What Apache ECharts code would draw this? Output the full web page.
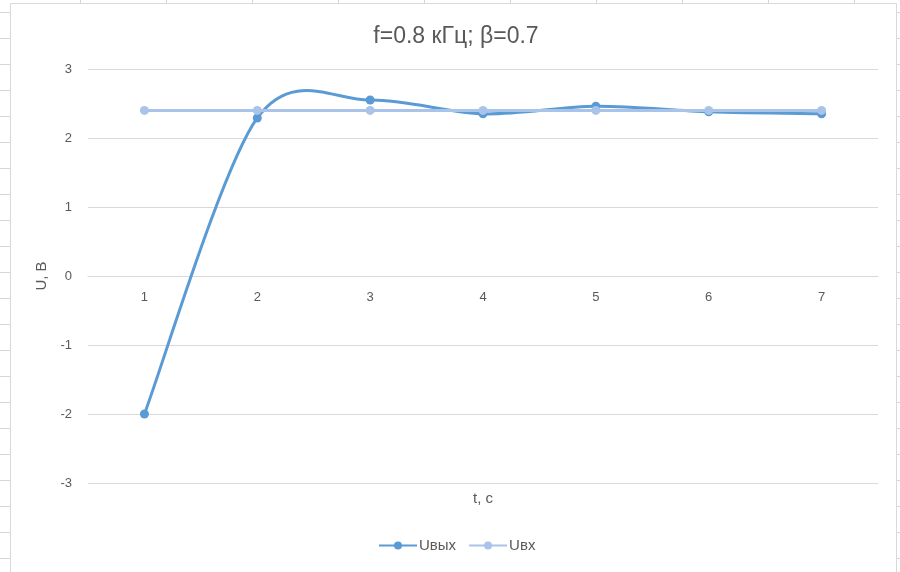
<!DOCTYPE html>
<html>
<head>
<meta charset="utf-8">
<script src="https://cdn.jsdelivr.net/npm/echarts@6/dist/echarts.min.js"></script>
<style>
html,body{margin:0;padding:0;background:#fff;}
#c{width:900px;height:572px;}
</style>
</head>
<body>
<div id="c"></div>
<script>
var categories = ['1', '2', '3', '4', '5', '6', '7'];
var uOut = [-2, 2.29, 2.55, 2.35, 2.46, 2.38, 2.35];
var uIn = [2.4, 2.4, 2.4, 2.4, 2.4, 2.4, 2.4];
var yTicks = [-3, -2, -1, 0, 1, 2, 3];
var Y_MIN = -3, Y_MAX = 3;

var chart = echarts.init(document.getElementById('c'), null, {renderer: 'canvas'});

// spreadsheet cell lines behind the chart area
var sheet = [];
for (var y = 12; y < 572; y += 26) {
  sheet.push({type: 'line', shape: {x1: 0, y1: y + 0.5, x2: 10, y2: y + 0.5}, style: {stroke: '#d6d6d6', lineWidth: 1}, silent: true, z: -10});
  sheet.push({type: 'line', shape: {x1: 897, y1: y + 0.5, x2: 900, y2: y + 0.5}, style: {stroke: '#d6d6d6', lineWidth: 1}, silent: true, z: -10});
}
for (var x = 80; x < 897; x += 86) {
  sheet.push({type: 'line', shape: {x1: x + 0.5, y1: 0, x2: x + 0.5, y2: 3}, style: {stroke: '#d6d6d6', lineWidth: 1}, silent: true, z: -10});
}
sheet.push({type: 'rect', shape: {x: 10.5, y: 3.5, width: 886, height: 600}, style: {fill: '#fff', stroke: '#d9d9d9', lineWidth: 1}, silent: true, z: -9});

var font = '"Liberation Sans", "Noto Sans", Arial, sans-serif';
var OUT_COLOR = '#5b9bd5';
var IN_COLOR = '#a9c4e8';

var GRID = {left: 88, right: 22, top: 69, bottom: 89};
var plotHeight = 572 - GRID.top - GRID.bottom;
// place the category axis where the value axis crosses zero (Excel style)
var zeroOffset = -plotHeight * (0 - Y_MIN) / (Y_MAX - Y_MIN);

// Excel-style smoothed line (Catmull-Rom through the data points, in pixel space)
function smoothPath(api, values) {
  var pts = values.map(function (v, i) { return api.coord([i, v]); });
  var n = pts.length;
  var k = 1 / 6.4;
  var d = 'M' + pts[0][0] + ',' + pts[0][1];
  for (var i = 0; i < n - 1; i++) {
    var p0 = pts[i > 0 ? i - 1 : i];
    var p1 = pts[i];
    var p2 = pts[i + 1];
    var p3 = pts[i + 2 < n ? i + 2 : i + 1];
    var c1x = p1[0] + (p2[0] - p0[0]) * k;
    var c1y = p1[1] + (p2[1] - p0[1]) * k;
    var c2x = p2[0] - (p3[0] - p1[0]) * k;
    var c2y = p2[1] - (p3[1] - p1[1]) * k;
    d += ' C' + c1x + ',' + c1y + ' ' + c2x + ',' + c2y + ' ' + p2[0] + ',' + p2[1];
  }
  return d;
}

chart.setOption({
  animation: false,
  textStyle: {fontFamily: font},
  graphic: sheet,
  title: {
    text: 'f=0.8 кГц; β=0.7',
    left: 451, top: 20, textAlign: 'center',
    textStyle: {fontFamily: font, fontSize: 23, fontWeight: 'normal', color: '#595959'}
  },
  legend: {
    data: [{name: 'Uвых', lineStyle: {opacity: 1}}, {name: 'Uвх'}],
    top: 533, left: 373,
    itemWidth: 38, itemHeight: 10, itemGap: 12,
    textStyle: {fontFamily: font, fontSize: 15, color: '#595959', padding: [0, 0, 0, -3]}
  },
  grid: {left: GRID.left, right: GRID.right, top: GRID.top, bottom: GRID.bottom, outerBoundsMode: 'none', containLabel: false},
  xAxis: {
    type: 'category', data: categories, boundaryGap: true,
    position: 'bottom', offset: zeroOffset,
    name: 't, с', nameLocation: 'middle', nameGap: 215,
    nameTextStyle: {fontFamily: font, fontSize: 15, color: '#595959'},
    axisLine: {show: true, onZero: false, lineStyle: {color: '#d9d9d9', width: 1}},
    axisTick: {show: false},
    axisLabel: {color: '#595959', fontSize: 13, margin: 15, fontFamily: font},
    splitLine: {show: false}
  },
  yAxis: {
    type: 'value', min: Y_MIN, max: Y_MAX, interval: 1,
    name: 'U, В', nameLocation: 'middle', nameGap: 33, nameRotate: 90,
    nameTextStyle: {fontFamily: font, fontSize: 15, color: '#595959'},
    axisLine: {show: false},
    axisTick: {show: false},
    axisLabel: {color: '#595959', fontSize: 13, margin: 16, fontFamily: font,
      formatter: function (v) { return yTicks.indexOf(v) >= 0 ? String(v) : ''; }},
    splitLine: {lineStyle: {color: '#d9d9d9', width: 1}}
  },
  series: [
    {
      name: 'Uвых', type: 'line', data: uOut,
      symbol: 'circle', symbolSize: 9,
      lineStyle: {color: OUT_COLOR, width: 3, opacity: 0},
      itemStyle: {color: OUT_COLOR},
      z: 3
    },
    {
      name: 'Uвых curve', type: 'custom', data: uOut.map(function (v, i) { return [i, v]; }),
      coordinateSystem: 'cartesian2d', silent: true, z: 2,
      renderItem: function (params, api) {
        if (params.dataIndex !== 0) return null;
        return {
          type: 'path',
          shape: {pathData: smoothPath(api, uOut)},
          style: {stroke: OUT_COLOR, lineWidth: 3, fill: 'none', lineJoin: 'round', lineCap: 'round'}
        };
      }
    },
    {
      name: 'Uвх', type: 'line', data: uIn,
      symbol: 'circle', symbolSize: 9,
      lineStyle: {color: IN_COLOR, width: 3},
      itemStyle: {color: IN_COLOR},
      z: 4
    }
  ]
});
</script>
</body>
</html>
